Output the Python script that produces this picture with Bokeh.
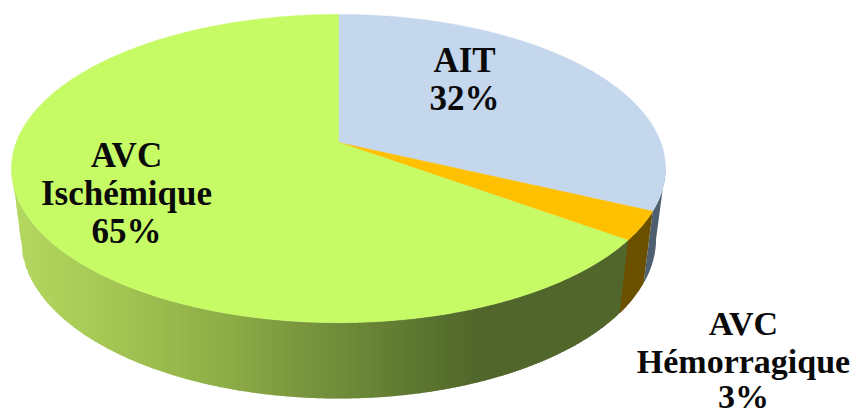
import numpy as np
from bokeh.plotting import figure
from bokeh.models import Range1d
from bokeh.core.properties import value
from bokeh.embed import file_html
from bokeh.resources import INLINE

categories = ["AIT", "AVC Hémorragique", "AVC Ischémique"]
shares = [32, 3, 65]
top_colors = ["#C4D7ED", "#FFC000", "#C6FB66"]
side_colors = ["#4E5F70", "#6B5000", "#50662A"]

label_lines = ["AIT", "32%", "AVC", "Ischémique", "65%"]
label_x = [464, 464, 126, 126, 126]
label_y = [60, 98, 155, 193, 231]
outer_lines = ["AVC", "Hémorragique", "3%"]
outer_x = [743, 743, 743]
outer_y = [323, 361, 396]

# gradient of the green wall, from left to right along the picture
grad_x = [15, 100, 230, 300, 420, 480, 660]
grad_rgb = [(180, 216, 98), (166, 200, 84), (140, 172, 70), (122, 150, 62), (92, 118, 48), (80, 102, 42), (80, 102, 42)]

# projected disc: centre, semi-axes, perspective
CX, K = 338, 0.169
TOP = dict(cy=142, a=322.3, b=149.7)
BOT = dict(cy=211.5, a=313.0, b=155.0)
HORIZON = np.degrees(np.arcsin(K))


def project(phi_deg, d):
    phi = np.radians(np.asarray(phi_deg, dtype=float))
    c, s = np.cos(phi), np.sin(phi)
    den = 1 + K * s
    return CX + d["a"] * c / den, d["cy"] - d["b"] * s / den


W, H = 851, 410
p = figure(width=W, height=H, output_backend="svg", toolbar_location=None,
           x_range=Range1d(0, W), y_range=Range1d(H, 0),
           min_border=0, min_border_left=0, min_border_right=0, min_border_top=0, min_border_bottom=0)
p.axis.visible = False
p.grid.visible = False
p.outline_line_color = None
p.background_fill_color = "white"

# slice boundaries: clockwise from 12 o'clock
bounds = 90 - np.cumsum([0] + shares) * 3.6

# silhouette curves of the wall, as functions of picture x
arc = np.linspace(-180 + HORIZON, -HORIZON, 721)
tx, ty = project(arc, TOP)
bx, by = project(arc, BOT)
low_x = np.concatenate([[tx[0]], bx, [tx[-1]]])
low_y = np.concatenate([[ty[0]], by, [ty[-1]]])

# green wall as vertical strips, each overlapping the next one
sx, sy, sc = [], [], []
green_end = project(bounds[2], TOP)[0] + 2
edges = np.arange(np.floor(tx[0]), green_end + 3, 3)
for x0, x1 in zip(edges[:-1], edges[1:]):
    xm = (x0 + x1) / 2
    rgb = [int(round(np.interp(xm, grad_x, [g[k] for g in grad_rgb]))) for k in range(3)]
    x2 = x1 + 1.5
    sx.append([x0, x2, x2, x0])
    sy.append([np.interp(x0, tx, ty), np.interp(x2, tx, ty), np.interp(x2, low_x, low_y), np.interp(x0, low_x, low_y)])
    sc.append("#%02x%02x%02x" % tuple(rgb))
p.patches(sx, sy, fill_color=sc, line_color=None)

# orange and blue walls
for i in (1, 0):
    start = min(bounds[i], -HORIZON)
    angs = np.linspace(start, bounds[i + 1], 40)
    x0, y0 = project(angs, TOP)
    x1, y1 = project(angs[::-1], BOT)
    p.patch(list(x0) + list(x1), list(y0) + list(y1), fill_color=side_colors[i], line_color=None)

# top
for i, col in enumerate(top_colors):
    angs = np.linspace(bounds[i], bounds[i + 1], int(abs(bounds[i + 1] - bounds[i]) * 2) + 2)
    x, y = project(angs, TOP)
    p.patch([CX] + list(x), [TOP["cy"]] + list(y), fill_color=col, line_color=col, line_width=0.5)

p.text(label_x, label_y, text=label_lines, text_font=value("Liberation Serif"),
       text_font_style="bold", text_font_size="35px", text_color="#0a0a0a",
       text_align="center", text_baseline="middle")
p.text(outer_x, outer_y, text=outer_lines, text_font=value("Liberation Serif"),
       text_font_style="bold", text_font_size="34px", text_color="#0a0a0a",
       text_align="center", text_baseline="middle")

open("out.html", "w").write(file_html(p, INLINE))
